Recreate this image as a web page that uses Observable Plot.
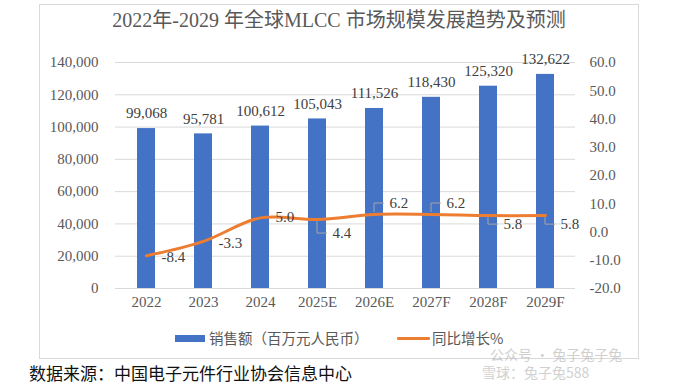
<!DOCTYPE html>
<html>
<head>
<meta charset="utf-8">
<script src="https://cdn.jsdelivr.net/npm/d3@7"></script>
<script src="https://cdn.jsdelivr.net/npm/@observablehq/plot@0.6"></script>
<style>
  html, body { margin: 0; padding: 0; background: #fff; }
  #root { position: relative; width: 675px; height: 388px; overflow: hidden; background: #fff; }
  #frame { position: absolute; left: 39px; top: 4px; width: 600px; height: 355px; border: 1px solid #d9d9d9; box-sizing: border-box; }
  #title { position: absolute; left: 39px; width: 600px; top: 8px; text-align: center; font-family: "Liberation Serif", "Noto Sans CJK SC", serif; font-size: 20px; line-height: 24px; color: #595959; white-space: nowrap; }
  .plot { position: absolute; left: 0; top: 0; }
  .leg { position: absolute; font-family: "Noto Sans CJK SC", sans-serif; font-size: 14.5px; line-height: 18px; color: #595959; white-space: nowrap; }
  #source { position: absolute; left: 29px; top: 362px; font-family: "Noto Sans CJK SC", sans-serif; font-size: 17px; line-height: 22px; color: #111; white-space: nowrap; }
  .wm { position: absolute; font-family: "Noto Sans CJK SC", sans-serif; color: #999; opacity: 0.45; white-space: nowrap; }
</style>
</head>
<body>
<div id="root">
  <div id="frame"></div>
  <div id="title">2022年-2029 年全球MLCC 市场规模发展趋势及预测</div>
  <div id="bars" class="plot"></div>
  <div id="lines" class="plot"></div>
  <div style="position:absolute;left:175px;top:335px;width:30px;height:7px;background:#4472C4"></div>
  <div class="leg" style="left:209px;top:329px">销售额（百万元人民币）</div>
  <div style="position:absolute;left:397px;top:337px;width:33px;height:3px;background:#ED7D31;border-radius:1px"></div>
  <div class="leg" style="left:432px;top:329px">同比增长%</div>
  <div id="source">数据来源：中国电子元件行业协会信息中心</div>
  <div class="wm" style="left:490px;top:346px;font-size:14px;line-height:16px">公众号 · 兔子兔子兔</div>
  <div class="wm" style="left:482px;top:364px;font-size:14px;line-height:16px">雪球：兔子兔588</div>
</div>
<script>
// ---- data ----
const categories = ["2022", "2023", "2024", "2025E", "2026E", "2027F", "2028F", "2029F"];
const sales = [99068, 95781, 100612, 105043, 111526, 118430, 125320, 132622];
const growth = [-8.4, -3.3, 5.0, 4.4, 6.2, 6.2, 5.8, 5.8];
const leftTicks = [0, 20000, 40000, 60000, 80000, 100000, 120000, 140000];
const rightTicks = [-20, -10, 0, 10, 20, 30, 40, 50, 60];
const seriesNames = ["销售额（百万元人民币）", "同比增长%"];

const rows = categories.map((c, i) => ({cat: c, sales: sales[i], growth: growth[i]}));

// ---- layout / style (not data) ----
const W = 675, H = 320;
const margins = {marginTop: 62, marginBottom: 32, marginLeft: 115, marginRight: 100};
const xScale = {type: "band", domain: categories, paddingInner: 0.69, paddingOuter: 0.345};
const font = "'Liberation Serif', 'Noto Sans CJK SC', serif";
const labelDy = {"2022": 1, "2023": 2, "2024": -1, "2025E": 14, "2026E": -11, "2027F": -11, "2028F": 9, "2029F": 9};
const fmtInt = d3.format(",");
const fmtPct = d => d.toFixed(1);

const barPlot = Plot.plot({
  width: W, height: H, ...margins,
  style: {fontFamily: font, fontSize: "15px", color: "#595959", background: "transparent", overflow: "visible"},
  x: {...xScale, label: null},
  y: {domain: [0, 140000], label: null},
  marks: [
    Plot.gridY(leftTicks, {stroke: "#d9d9d9", strokeOpacity: 1, strokeWidth: 1}),
    Plot.axisY(leftTicks, {tickSize: 0, tickPadding: 17, tickFormat: fmtInt, label: null, fill: "#595959"}),
    Plot.axisX({tickSize: 0, tickPadding: 8, label: null, fill: "#595959"}),
    Plot.barY(rows, {x: "cat", y: "sales", fill: "#4472C4"}),
    Plot.text(rows, {x: "cat", y: "sales", text: d => fmtInt(d.sales), dy: -15, fill: "#404040", fontSize: 15})
  ]
});
document.getElementById("bars").appendChild(barPlot);

const dyValues = [...new Set(Object.values(labelDy))];
const linePlot = Plot.plot({
  width: W, height: H, ...margins,
  style: {fontFamily: font, fontSize: "15px", color: "#595959", background: "transparent", overflow: "visible"},
  x: {...xScale, axis: null, label: null},
  y: {domain: [-20, 60], label: null},
  marks: [
    Plot.axisY(rightTicks, {anchor: "right", tickSize: 0, tickPadding: 14, tickFormat: fmtPct, label: null, fill: "#595959"}),
    Plot.line(rows, {x: "cat", y: "growth", stroke: "#ED7D31", strokeWidth: 3, curve: "catmull-rom", strokeLinecap: "round", strokeLinejoin: "round"}),
    ...dyValues.map(v => Plot.text(rows, {
      filter: d => labelDy[d.cat] === v,
      x: "cat", y: "growth", text: d => fmtPct(d.growth),
      dx: 15, dy: v, textAnchor: "start", fill: "#404040", fontSize: 15
    }))
  ]
});
document.getElementById("lines").appendChild(linePlot);

// leader lines for moved labels, positioned through the plot's own scales
const sx = linePlot.scale("x"), sy = linePlot.scale("y");
const svg = d3.select(linePlot.tagName.toLowerCase() === "svg" ? linePlot : linePlot.querySelector("svg"));
const leaders = svg.append("g").attr("fill", "none").attr("stroke", "#a6a6a6").attr("stroke-width", 1);
rows.forEach(d => {
  const dy = labelDy[d.cat];
  if (Math.abs(dy) < 5) return;
  const px = sx.apply(d.cat) + sx.bandwidth / 2;
  const py = sy.apply(d.growth);
  leaders.append("path").attr("d", `M${px},${py + Math.sign(dy) * 2}V${py + dy}H${px + 10}`);
});
</script>
</body>
</html>
